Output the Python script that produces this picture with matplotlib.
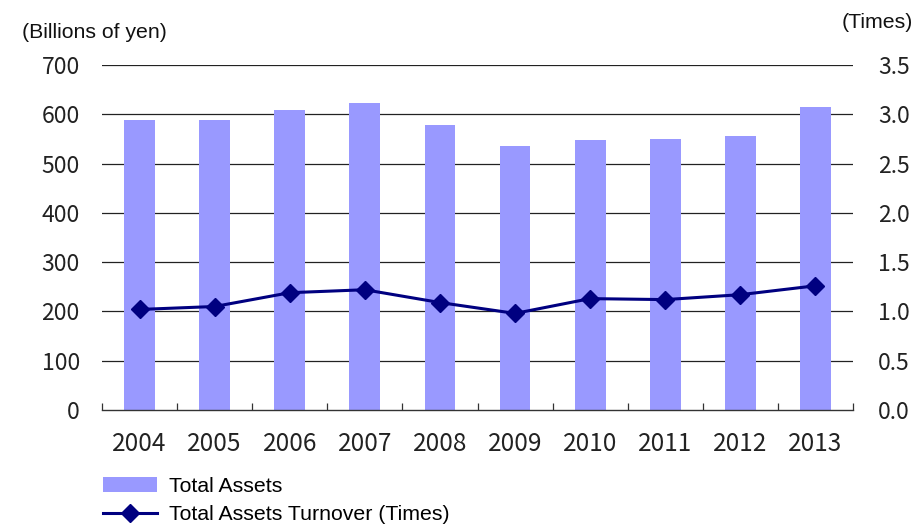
import matplotlib
matplotlib.use("Agg")
import matplotlib.pyplot as plt
import numpy as np

years = ["2004", "2005", "2006", "2007", "2008", "2009", "2010", "2011", "2012", "2013"]
total_assets = [588, 588, 608, 622, 578, 535, 547, 549, 555, 614]
turnover = [1.02, 1.05, 1.19, 1.22, 1.09, 0.98, 1.13, 1.12, 1.17, 1.26]
left_ticks = [0, 100, 200, 300, 400, 500, 600, 700]
right_ticks = [0.0, 0.5, 1.0, 1.5, 2.0, 2.5, 3.0, 3.5]

num_font = ["Noto Sans CJK KR", "DejaVu Sans"]
txt_font = ["Liberation Sans", "DejaVu Sans"]

fig = plt.figure(figsize=(9.17, 5.26), dpi=100)
ax = fig.add_axes([102/917, 1-410/526, 751/917, 345/526])
x = np.arange(len(years))
bars = ax.bar(x, total_assets, width=0.41, color="#9999FF", label="Total Assets", zorder=2)
ax.set_xlim(-0.5, len(years) - 0.5)
ax.set_ylim(0, 700)
ax.set_yticks(left_ticks)
ax.set_yticklabels([str(v) for v in left_ticks], family=num_font, fontsize=16.5,
                   color="#222222", fontweight="light")
for v in left_ticks[1:]:
    ax.axhline(v, color="#222222", lw=0.9, zorder=1)
ax.tick_params(axis="y", length=0, pad=16)
ax.set_xticks(x)
ax.set_xticklabels(years, family=num_font, fontsize=17.5, color="#222222", fontweight="light")
ax.set_xticks(np.arange(len(years) + 1) - 0.5, minor=True)
ax.tick_params(axis="x", which="major", length=0, pad=15)
ax.tick_params(axis="x", which="minor", direction="in", length=5, width=0.9, color="#333333")
for s in ["left", "right", "top"]:
    ax.spines[s].set_visible(False)
ax.spines["bottom"].set_color("#333333")
ax.spines["bottom"].set_linewidth(1.0)

ax2 = ax.twinx()
line, = ax2.plot(x, turnover, color="#000080", lw=2.2, marker="D", markersize=9,
                 label="Total Assets Turnover (Times)", zorder=3)
ax2.set_ylim(0, 3.5)
ax2.set_yticks(right_ticks)
ax2.set_yticklabels([f"{v:.1f}" for v in right_ticks], family=num_font, fontsize=16.5,
                    color="#222222", fontweight="light")
ax2.tick_params(axis="y", length=0, pad=18)
for s in ["left", "right", "top", "bottom"]:
    ax2.spines[s].set_visible(False)

fig.text(22/917, 1-32/526, "(Billions of yen)", family=txt_font, fontsize=15.3, va="center", ha="left", color="#111111")
fig.text(913/917, 1-22/526, "(Times)", family=txt_font, fontsize=15.3, va="center", ha="right", color="#111111")

fig.legend(handles=[bars, line], loc="upper left", bbox_to_anchor=(103/917, 1-477/526),
           frameon=False, prop={"family": txt_font, "size": 15.3}, handlelength=2.55,
           handleheight=0.65, labelspacing=0.42, handletextpad=0.55, borderaxespad=0,
           borderpad=0)

fig.savefig("out.png", dpi=100)
